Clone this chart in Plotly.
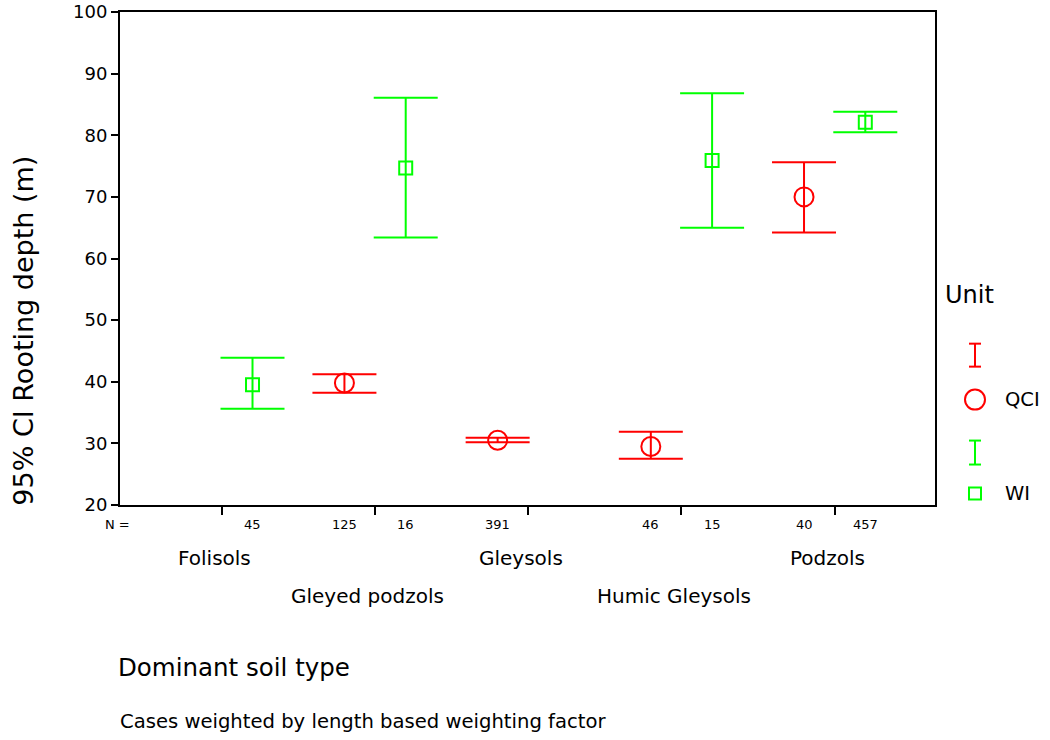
import plotly.graph_objects as go

categories = ["Folisols", "Gleyed podzols", "Gleysols", "Humic Gleysols", "Podzols"]

qci_mean = [None, 39.8, 30.5, 29.5, 70.0]
qci_low = [None, 38.2, 30.2, 27.5, 64.2]
qci_high = [None, 41.2, 30.9, 31.9, 75.6]
qci_n = [None, 125, 391, 46, 40]

wi_mean = [39.5, 74.7, None, 75.9, 82.1]
wi_low = [35.6, 63.4, None, 65.0, 80.5]
wi_high = [43.9, 86.1, None, 86.8, 83.8]
wi_n = [45, 16, None, 15, 457]

RED = "#FF0000"
GREEN = "#00FF00"
FONT = "DejaVu Sans, Liberation Sans, Arial, sans-serif"

W, H = 1050, 740
L, R, T, B = 120, 935, 12, 505.5


def px(x):
    return (x - L) / (R - L)


def py(y):
    return (B - y) / (B - T)


fig = go.Figure()


def add_series(means, lows, highs, offset, color, symbol, size):
    xs, ys, up, dn = [], [], [], []
    for i, m in enumerate(means):
        if m is None:
            continue
        xs.append(i + offset)
        ys.append(m)
        up.append(highs[i] - m)
        dn.append(m - lows[i])
    fig.add_trace(go.Scatter(
        x=xs, y=ys, mode="markers",
        marker=dict(symbol=symbol, size=size, color=color, line=dict(color=color, width=2)),
        error_y=dict(type="data", symmetric=False, array=up, arrayminus=dn,
                     color=color, thickness=2, width=32),
        showlegend=False, hoverinfo="skip"))


add_series(qci_mean, qci_low, qci_high, -0.2, RED, "circle-open", 19)
add_series(wi_mean, wi_low, wi_high, 0.2, GREEN, "square-open", 13)

annotations = []
# N labels
annotations.append(dict(x=px(103), y=py(525), xref="paper", yref="paper", text="N =",
                        showarrow=False, xanchor="left", yanchor="middle",
                        font=dict(family=FONT, size=13, color="black")))
for i in range(len(categories)):
    if qci_n[i] is not None:
        annotations.append(dict(x=i - 0.2, y=py(525), xref="x", yref="paper", text=str(qci_n[i]),
                                showarrow=False, xanchor="center", yanchor="middle",
                                font=dict(family=FONT, size=13, color="black")))
    if wi_n[i] is not None:
        annotations.append(dict(x=i + 0.2, y=py(525), xref="x", yref="paper", text=str(wi_n[i]),
                                showarrow=False, xanchor="center", yanchor="middle",
                                font=dict(family=FONT, size=13, color="black")))
# category labels, staggered
for i, c in enumerate(categories):
    ypix = 559 if i % 2 == 0 else 597
    annotations.append(dict(x=i - 0.05, y=py(ypix), xref="x", yref="paper", text=c,
                            showarrow=False, xanchor="center", yanchor="middle",
                            font=dict(family=FONT, size=20, color="black")))

annotations.append(dict(x=px(116), y=py(668), xref="paper", yref="paper", text="Dominant soil type",
                        showarrow=False, xanchor="left", yanchor="middle",
                        font=dict(family=FONT, size=24.5, color="black")))
annotations.append(dict(x=px(118), y=py(722), xref="paper", yref="paper",
                        text="Cases weighted by length based weighting factor",
                        showarrow=False, xanchor="left", yanchor="middle",
                        font=dict(family=FONT, size=19.6, color="black")))
annotations.append(dict(x=px(24), y=py(331), xref="paper", yref="paper",
                        text="95% CI Rooting depth (m)", textangle=-90,
                        showarrow=False, xanchor="center", yanchor="middle",
                        font=dict(family=FONT, size=27, color="black")))

# custom legend
annotations.append(dict(x=px(943), y=py(295), xref="paper", yref="paper", text="Unit",
                        showarrow=False, xanchor="left", yanchor="middle",
                        font=dict(family=FONT, size=24, color="black")))
annotations.append(dict(x=px(1003), y=py(400), xref="paper", yref="paper", text="QCI",
                        showarrow=False, xanchor="left", yanchor="middle",
                        font=dict(family=FONT, size=19.5, color="black")))
annotations.append(dict(x=px(1003), y=py(494), xref="paper", yref="paper", text="WI",
                        showarrow=False, xanchor="left", yanchor="middle",
                        font=dict(family=FONT, size=19.5, color="black")))

shapes = []


def line(x0, y0, x1, y1, color):
    shapes.append(dict(type="line", xref="paper", yref="paper",
                       x0=px(x0), y0=py(y0), x1=px(x1), y1=py(y1),
                       line=dict(color=color, width=2)))


def ibar(xc, ytop, ybot, color):
    line(xc, ytop, xc, ybot, color)
    line(xc - 6, ytop, xc + 6, ytop, color)
    line(xc - 6, ybot, xc + 6, ybot, color)


ibar(975, 344, 367, RED)
ibar(975, 441, 465, GREEN)
shapes.append(dict(type="circle", xref="paper", yref="paper",
                   x0=px(965), y0=py(390), x1=px(985), y1=py(410),
                   line=dict(color=RED, width=2)))
shapes.append(dict(type="rect", xref="paper", yref="paper",
                   x0=px(969), y0=py(488), x1=px(981), y1=py(500),
                   line=dict(color=GREEN, width=2)))

fig.update_layout(
    width=W, height=H,
    margin=dict(l=L, r=W - R, t=T, b=H - B, pad=0, autoexpand=False),
    paper_bgcolor="white", plot_bgcolor="white",
    font=dict(family=FONT, color="black"),
    annotations=annotations, shapes=shapes,
    xaxis=dict(range=[-0.665, 4.655], tickvals=list(range(len(categories))),
               ticktext=[""] * len(categories), ticks="outside", ticklen=8, tickwidth=2,
               tickcolor="black", showline=True, linecolor="black", linewidth=2,
               mirror=True, showgrid=False, zeroline=False, fixedrange=True,
               automargin=False),
    yaxis=dict(range=[20, 100], tickvals=list(range(20, 101, 10)), ticks="outside",
               ticklen=7, tickwidth=2, tickcolor="black", showline=True, linecolor="black",
               linewidth=2, mirror=True, showgrid=False, zeroline=False,
               tickfont=dict(family=FONT, size=18, color="black"), fixedrange=True,
               automargin=False),
)

fig.write_html("out.html")
